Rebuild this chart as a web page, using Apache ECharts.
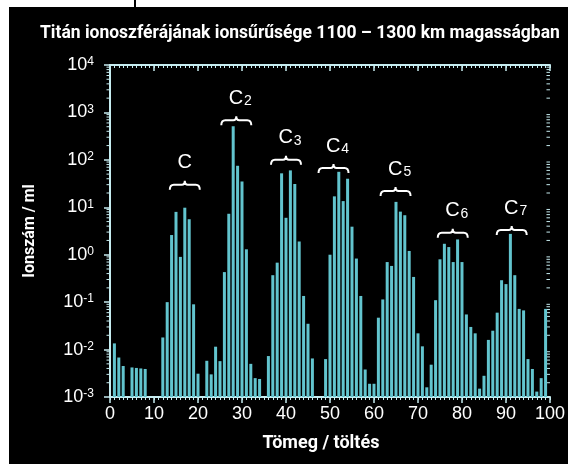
<!DOCTYPE html>
<html>
<head>
<meta charset="utf-8">
<script src="https://cdn.jsdelivr.net/npm/echarts@6/dist/echarts.min.js"></script>
<style>
  html, body { margin: 0; padding: 0; background: #fff; }
  #chart { position: absolute; left: 9px; top: 7px; width: 559px; height: 457px; background: #000; }
  #mark { position: absolute; left: 134px; top: 0; width: 2px; height: 7px; background: #000; }
</style>
</head>
<body>
<div id="chart"></div>
<div id="mark"></div>
<script>
// tömeg/töltés értékek (csak ahol van oszlop)
const masses = [1, 2, 3, 5, 6, 7, 8,
  12, 13, 14, 15, 16, 17, 18, 19, 20,
  22, 23, 24, 25, 26, 27, 28, 29, 30, 31, 32, 33, 34,
  36, 37, 38, 39, 40, 41, 42, 43, 44, 45, 46,
  49, 50, 51, 52, 53, 54, 55, 56, 57, 58, 59, 60,
  61, 62, 63, 64, 65, 66, 67, 68, 69, 70, 71, 72,
  73, 74, 75, 76, 77, 78, 79, 80, 81, 82, 83, 84,
  85, 86, 87, 88, 89, 90, 91, 92, 93, 94, 95, 96, 97, 98, 99];
// ionszám / ml
const ionDensity = [0.0135, 0.0068, 0.0045, 0.0042, 0.0041, 0.0040, 0.0039,
  0.018, 0.1, 2.6, 8.0, 0.9, 9.8, 5.6, 0.09, 0.0031,
  0.0058, 0.0030, 0.0115, 0.0057, 0.43, 7.3, 510, 75, 35, 1.3, 0.005, 0.0025, 0.0024,
  0.0073, 0.37, 0.68, 52, 6.0, 60, 31, 1.9, 0.135, 0.035, 0.0065,
  0.0063, 1.0, 17, 56, 13.5, 40, 3.9, 0.83, 0.135, 0.0038, 0.0019, 0.0019,
  0.047, 0.114, 0.7, 0.58, 13, 8.1, 6.8, 1.2, 0.34, 0.022, 0.0117, 0.0016,
  0.0048, 0.11, 0.8, 1.7, 1.45, 0.7, 2.1, 0.7, 0.055, 0.03, 0.022, 0.0015,
  0.0028, 0.016, 0.025, 0.06, 0.29, 0.24, 2.75, 0.37, 0.072, 0.067, 0.0063, 0.0039, 0.0013, 0.0025, 0.072];

// C_n csoportok: közép (tömeg), zárójel magassága (ionszám), alsó index
const groupMass = [17, 28.7, 40, 50.8, 64.9, 77.9, 91.3];
const groupLevel = [30, 680, 100, 67, 22, 2.9, 3.3];
const groupIndex = ['', '2', '3', '4', '5', '6', '7'];

const xTicks = [0, 10, 20, 30, 40, 50, 60, 70, 80, 90, 100];
const yDecades = [-3, -2, -1, 0, 1, 2, 3, 4];
const yMinorFactors = [2, 3, 4, 5, 6, 7, 8, 9];

const axisColor = '#c6ecf0';
const barColor = '#62c4ce';

// log tengely kis osztásai
let yMinor = [];
yDecades.slice(0, -1).forEach(d => yMinorFactors.forEach(f => yMinor.push(f * Math.pow(10, d))));

let chart = echarts.init(document.getElementById('chart'));

function xAxisCfg(pos) {
    let top = pos === 'top';
    return {
        type: 'value',
        position: pos,
        min: xTicks[0],
        max: xTicks[xTicks.length - 1],
        interval: 10,
        axisLine: {show: true, lineStyle: {color: axisColor, width: 2}},
        axisTick: {show: true, inside: top, length: 6, lineStyle: {color: axisColor, width: 1.5}},
        splitLine: {show: false},
        axisLabel: top ? {show: false} : {
            color: '#fff', fontSize: 18, fontFamily: 'Liberation Sans', margin: 8
        },
        name: top ? '' : 'Tömeg / töltés',
        nameLocation: 'middle',
        nameGap: 37,
        nameTextStyle: {color: '#fff', fontSize: 18, fontWeight: 'bold', fontFamily: 'Roboto', padding: [0, 18, 0, 0]}
    };
}

// x kis osztások: külön tengely, csak osztásokkal
function xMinorCfg(pos) {
    return {
        type: 'value',
        position: pos,
        min: xTicks[0],
        max: xTicks[xTicks.length - 1],
        interval: 1,
        axisLine: {show: false},
        axisTick: {show: true, inside: pos === 'top', length: 3, lineStyle: {color: axisColor, width: 1}},
        axisLabel: {show: false},
        splitLine: {show: false}
    };
}

function yAxisCfg(pos) {
    let right = pos === 'right';
    return {
        type: 'log',
        logBase: 10,
        position: pos,
        min: 0.001,
        max: 10000,
        interval: 1,
        startValue: 0.001,
        axisLine: {show: true, lineStyle: {color: axisColor, width: 2}},
        axisTick: {show: true, inside: right, length: 6, lineStyle: {color: axisColor, width: 1.5}},
        splitLine: {show: false},
        axisLabel: right ? {show: false} : {
            margin: 16,
            formatter: function (v) {
                return '{b|10}{s|' + Math.round(Math.log10(v)) + '}';
            },
            rich: {
                b: {color: '#fff', fontSize: 18, fontFamily: 'Liberation Sans'},
                s: {color: '#fff', fontSize: 12, fontFamily: 'Liberation Sans', verticalAlign: 'top'}
            }
        },
        name: right ? '' : 'Ionszám / ml',
        nameLocation: 'middle',
        nameGap: 72,
        nameTextStyle: {color: '#fff', fontSize: 16, fontWeight: 'bold', fontFamily: 'Roboto'}
    };
}

chart.setOption({
    backgroundColor: '#000',
    animation: false,
    title: {
        text: 'Titán ionoszférájának ionsűrűsége 1100 – 1300 km magasságban',
        left: 26,
        top: 13,
        textStyle: {color: '#fff', fontSize: 17.5, fontWeight: 'bold', fontFamily: 'Roboto'}
    },
    grid: {left: 101, right: 15, top: 58, bottom: 67},
    xAxis: [xAxisCfg('bottom'), xAxisCfg('top'), xMinorCfg('bottom'), xMinorCfg('top')],
    yAxis: [yAxisCfg('left'), yAxisCfg('right')],
    series: [{
        type: 'bar',
        xAxisIndex: 0,
        yAxisIndex: 0,
        barWidth: 3,
        itemStyle: {color: barColor},
        data: masses.map((m, i) => [m, ionDensity[i]])
    }, {
        // y kis osztások mindkét oldalon
        type: 'custom',
        xAxisIndex: 0,
        yAxisIndex: 0,
        clip: false,
        silent: true,
        data: yMinor.map(v => [xTicks[0], v]),
        renderItem: function (params, api) {
            let p = api.coord([xTicks[0], api.value(1)]);
            let q = api.coord([xTicks[xTicks.length - 1], api.value(1)]);
            let st = {stroke: axisColor, lineWidth: 1};
            return {
                type: 'group',
                children: [
                    {type: 'line', shape: {x1: p[0] - 3.5, y1: p[1], x2: p[0], y2: p[1]}, style: st},
                    {type: 'line', shape: {x1: q[0], y1: q[1], x2: q[0] - 3.5, y2: q[1]}, style: st}
                ]
            };
        }
    }, {
        type: 'custom',
        xAxisIndex: 0,
        yAxisIndex: 0,
        data: groupMass.map((m, i) => [m, groupLevel[i]]),
        renderItem: function (params, api) {
            let p = api.coord([api.value(0), api.value(1)]);
            let x = p[0], y = p[1], w = 15;
            let sub = groupIndex[params.dataIndex];
            let path = 'M' + (x - w) + ' ' + (y + 5) +
                ' Q' + (x - w) + ' ' + y + ' ' + (x - w + 4) + ' ' + y +
                ' L' + (x - 3) + ' ' + y +
                ' Q' + x + ' ' + y + ' ' + x + ' ' + (y - 4) +
                ' Q' + x + ' ' + y + ' ' + (x + 3) + ' ' + y +
                ' L' + (x + w - 4) + ' ' + y +
                ' Q' + (x + w) + ' ' + y + ' ' + (x + w) + ' ' + (y + 5);
            return {
                type: 'group',
                children: [{
                    type: 'path',
                    shape: {pathData: path},
                    style: {stroke: '#fff', lineWidth: 2, fill: null}
                }, {
                    type: 'text',
                    x: x + (sub ? 4 : 0),
                    y: y - 22,
                    style: {
                        text: sub ? '{c|C}{i|' + sub + '}' : '{c|C}',
                        align: 'center',
                        verticalAlign: 'middle',
                        rich: {
                            c: {fill: '#fff', fontSize: 20, fontFamily: 'Liberation Sans'},
                            i: {fill: '#fff', fontSize: 14, fontFamily: 'Liberation Sans', verticalAlign: 'bottom', padding: [0, 0, 0, 1]}
                        }
                    }
                }]
            };
        }
    }]
});
</script>
</body>
</html>
